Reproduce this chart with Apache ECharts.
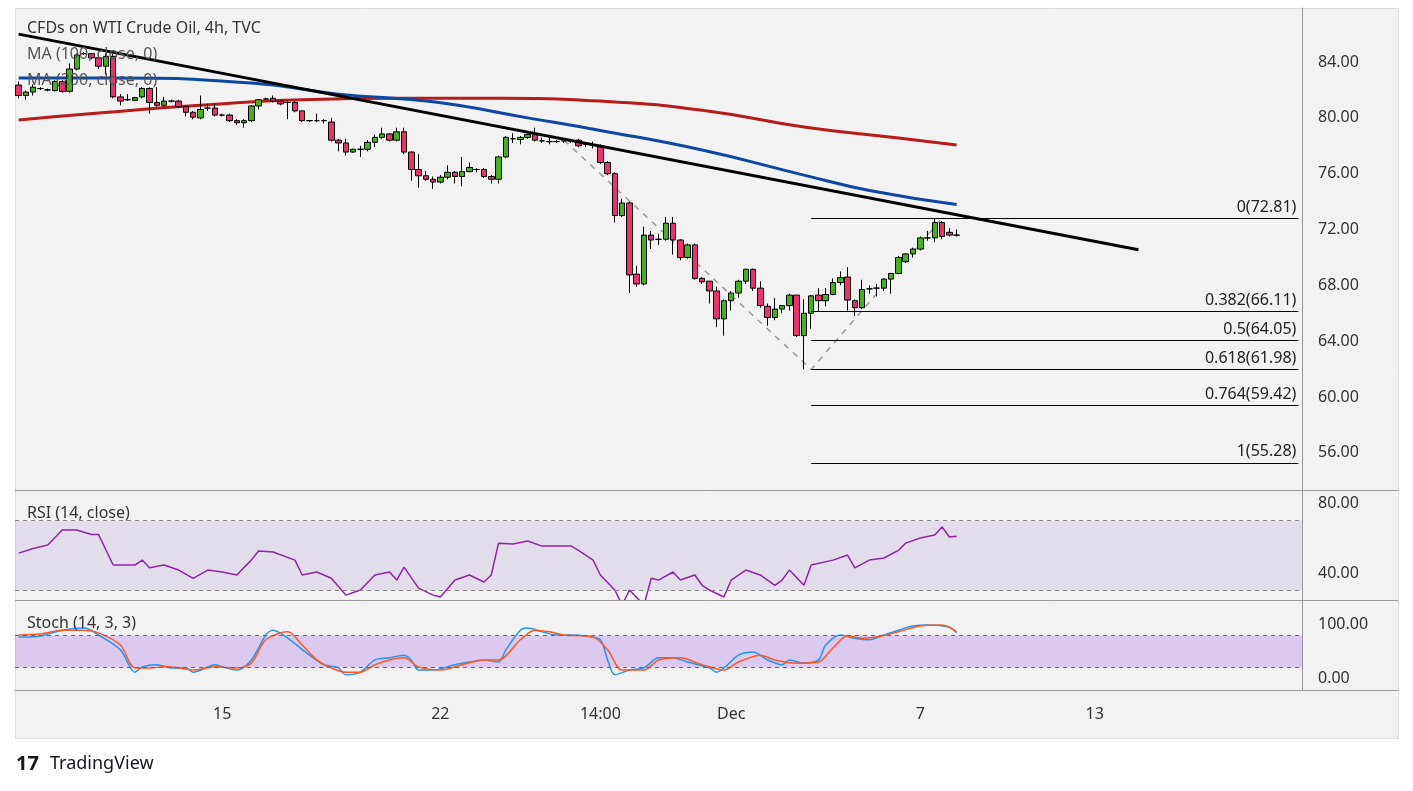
<!DOCTYPE html>
<html>
<head>
<meta charset="utf-8">
<script src="https://cdn.jsdelivr.net/npm/echarts@6/dist/echarts.min.js"></script>
<style>
html,body{margin:0;padding:0;background:#fff}
#chart{width:1413px;height:791px}
</style>
</head>
<body>
<div id="chart"></div>
<script>
// candles: [open, close, low, high]
var candles = [
  [82.35,81.6,81.4,82.6],[81.6,81.85,81.3,81.95],[81.85,82.2,81.6,82.4],[82.1,82.1,82.0,82.2],[82.0,82.0,81.9,82.1],
  [81.95,82.6,81.9,82.7],[82.6,81.9,81.8,82.7],[81.9,83.5,81.8,83.9],[83.5,84.5,83.4,84.6],[84.6,84.6,84.5,84.7],
  [84.6,84.3,84.2,84.6],[84.3,83.7,83.5,84.5],[83.7,84.4,83.1,84.6],[84.4,81.5,81.4,84.6],[81.5,81.2,80.9,81.7],
  [81.3,81.3,81.2,81.7],[81.25,81.45,81.2,81.5],[81.5,82.1,81.4,82.2],[82.1,81.1,80.3,82.2],[81.1,80.9,80.8,82.2],
  [80.9,81.2,80.8,81.5],[81.2,81.2,81.1,81.3],[81.2,80.8,80.7,81.3],[80.8,80.4,80.1,80.9],[80.4,80.05,79.9,80.5],
  [80.0,80.6,79.9,81.6],[80.7,80.7,80.5,81.0],[80.7,80.2,80.1,81.0],[80.2,80.2,80.1,80.3],[80.2,79.8,79.7,80.3],
  [79.8,79.65,79.5,79.9],[79.65,79.8,79.3,79.9],[79.8,80.85,79.7,80.9],[80.85,81.3,80.6,81.35],[81.35,81.35,81.3,81.45],
  [81.4,81.2,81.1,81.6],[81.2,81.0,80.9,81.2],[81.1,81.1,79.9,81.2],[81.1,80.5,80.4,81.2],[80.5,79.8,79.7,80.5],
  [79.8,79.8,79.7,79.85],[79.8,79.8,79.7,80.3],[79.8,79.8,79.6,79.9],[79.7,78.4,78.3,80.0],[78.4,78.2,77.6,78.5],
  [78.2,77.55,77.3,78.5],[77.55,77.75,77.5,77.8],[77.75,77.75,77.2,78.0],[77.75,78.25,77.6,78.4],[78.25,78.6,77.9,78.8],
  [78.6,78.85,78.5,79.3],[78.85,78.4,78.3,78.9],[78.4,79.0,78.3,79.3],[79.0,77.55,77.4,79.3],[77.55,76.3,75.5,77.6],
  [76.3,75.85,75.0,77.4],[75.85,75.6,75.5,76.2],[75.6,75.4,74.9,75.8],[75.4,75.75,75.3,75.9],[75.75,76.1,75.6,76.6],
  [76.1,75.8,75.3,76.2],[75.8,76.15,75.1,77.2],[76.15,76.45,76.1,76.8],[76.3,76.3,76.1,76.4],[76.3,75.8,75.7,76.4],
  [75.8,75.6,75.3,75.9],[75.6,77.2,75.3,77.3],[77.2,78.6,77.1,78.7],[78.5,78.5,78.2,78.9],[78.45,78.6,78.1,78.7],
  [78.6,78.8,78.5,79.0],[78.8,78.4,78.3,79.3],[78.35,78.35,78.2,78.6],[78.3,78.3,78.1,78.7],[78.3,78.3,78.2,78.4],
  [78.35,78.35,78.2,78.5],[78.35,78.35,78.2,78.5],[78.4,78.0,77.9,78.5],[78.1,78.1,77.9,78.2],[78.05,78.05,77.8,78.3],
  [78.0,76.8,76.7,78.1],[76.8,76.0,75.9,76.9],[76.0,73.0,72.5,76.1],[73.0,73.9,72.9,74.2],[73.9,68.75,67.45,74.0],
  [68.8,68.1,67.9,69.4],[68.1,71.6,68.0,72.2],[71.6,71.25,70.6,71.9],[71.3,71.3,70.9,71.7],[71.3,72.45,71.2,72.9],
  [72.45,71.25,70.2,72.9],[71.25,70.0,69.8,71.3],[70.0,70.9,69.9,71.0],[70.9,68.5,68.4,71.0],[68.5,68.25,68.1,68.6],
  [68.3,67.6,66.7,68.3],[67.6,65.6,65.0,67.9],[65.6,66.9,64.4,67.0],[66.9,67.45,66.2,67.6],[67.45,68.3,67.1,68.4],
  [68.3,69.15,68.1,69.2],[69.15,67.8,67.6,69.2],[67.8,66.55,66.4,68.3],[66.5,65.7,65.1,66.7],[65.7,66.3,65.5,67.1],
  [66.3,66.55,66.0,66.6],[66.55,67.3,66.2,67.4],[67.3,64.4,64.3,67.3],[64.4,66.0,61.98,67.0],[66.0,67.25,64.9,67.3],
  [67.3,66.9,66.1,67.8],[66.9,67.35,66.5,67.8],[67.35,68.2,67.3,68.5],[68.2,68.55,68.0,69.0],[68.6,66.95,66.2,69.3],
  [66.9,66.4,65.8,67.0],[66.4,67.7,66.3,68.4],[67.75,67.75,67.4,68.0],[67.8,67.8,67.2,68.1],[67.8,68.45,67.6,68.5],
  [68.45,68.85,67.4,68.9],[68.85,70.0,68.8,70.1],[69.7,70.25,69.6,70.3],[70.25,70.6,70.0,70.7],[70.6,71.4,70.5,71.5],
  [71.4,71.4,71.2,71.9],[71.4,72.5,71.1,72.81],[72.5,71.5,71.3,72.6],[71.8,71.6,71.5,72.1],[71.6,71.6,71.5,72.0]
];
var slotCount = 177;
var dateLabels = {28:'15', 58:'22', 80:'14:00', 98:'Dec', 124:'7', 148:'13'};

// [candle index, value]
var ma100 = [[0,82.85],[13,82.85],[32,82.5],[44,81.7],[57,81.15],[70,80.0],[80,79.1],[94,77.7],[108,75.9],[117,74.8],[129,73.8]];
var ma200 = [[0,79.85],[11,80.35],[25,80.9],[39,81.3],[53,81.4],[66,81.4],[80,81.2],[94,80.55],[108,79.35],[121,78.55],[129,78.05]];
var trendLine = [[0,86.0],[154,70.55]];
var zigzag = [[75,78.4],[109,61.98],[127,72.81]];
var fibLevels = [[0,72.81],[0.382,66.11],[0.5,64.05],[0.618,61.98],[0.764,59.42],[1,55.28]];
var priceTicks = [56,60,64,68,72,76,80,84];

var rsi = [[0,51.4],[2,54],[4,56],[6,64.6],[8,64.6],[10,62],[11,62],[13,44.6],[16,44.6],[17,47.4],[18,43],[20,44.6],
  [22,41.7],[24,37],[26,41.7],[28,40.6],[30,38.9],[32,47.4],[33,52.6],[35,52],[38,47.4],[39,38.9],[41,40.6],[43,37],
  [45,27.4],[47,30.3],[49,38.9],[51,40.6],[52,36],[53,43.4],[55,31.4],[57,27.4],[58,26.3],[60,36],[62,38.9],[64,34.9],
  [65,38.9],[66,57.1],[68,56.6],[70,58.3],[72,55.4],[74,55.4],[76,55.4],[77,53],[79,47.4],[80,38.9],[82,30.3],[83,21.7],
  [84,30.3],[86,21.7],[87,37],[88,36],[90,40.6],[91,36],[93,38.9],[94,33],[95,30.3],[97,26.3],[98,36],[100,41.7],
  [102,38.9],[104,33],[105,36],[106,41.7],[108,33],[109,44.6],[112,47.4],[114,50.3],[115,43],[117,47.4],[119,48.6],
  [121,53],[122,57.1],[124,60],[126,61.7],[127,66.3],[128,60.6],[129,61.1]];
var stochK = [[0,77],[3,79],[6,90],[9,94],[11,81],[14,53],[16,11],[17,21],[19,25],[21,19],[23,19],[24,11],[27,25],[28,21],
  [30,15],[32,34],[34,81],[35,90],[37,75],[40,43],[42,25],[44,19],[45,6],[47,11],[49,34],[51,38],[53,43],[54,34],[55,15],
  [57,15],[60,25],[62,30],[64,34],[66,30],[67,53],[69,90],[70,94],[72,87],[74,81],[76,81],[78,79],[80,72],[81,34],[82,6],
  [84,15],[86,19],[88,38],[90,38],[92,30],[95,19],[96,11],[97,19],[99,43],[101,49],[103,34],[105,25],[106,34],[108,28],
  [110,34],[111,62],[113,81],[115,75],[117,72],[119,81],[121,90],[123,98],[125,100],[128,96],[129,85]];
var stochD = [[0,81],[3,83],[6,90],[9,90],[11,85],[14,62],[16,19],[18,19],[20,21],[22,19],[24,15],[27,21],[30,19],[32,28],
  [34,72],[37,87],[39,62],[41,34],[43,19],[45,11],[47,11],[49,25],[51,34],[53,38],[55,21],[58,15],[61,25],[64,34],[66,34],
  [69,72],[71,90],[73,87],[75,81],[79,77],[81,53],[83,15],[86,15],[88,34],[91,38],[94,25],[97,15],[99,30],[102,43],[104,34],
  [107,28],[110,30],[112,57],[114,79],[116,75],[118,77],[121,87],[124,98],[127,100],[129,87]];

var cats = [];
for (var i = 0; i < slotCount; i++) cats.push(dateLabels[i] || '');

var chart = echarts.init(document.getElementById('chart'));
var gridLeft = 15, gridRight = 111;
var fibLines = fibLevels.map(function (f) {
  var txt = f[0] + '(' + f[1].toFixed(2) + ')';
  return [{coord: [109, f[1]], name: txt}, {coord: [slotCount - 1, f[1]]}];
});

function xAx(idx, showLabels) {
  return {
    type: 'category', gridIndex: idx, data: cats, boundaryGap: true,
    axisLine: {show: showLabels, onZero: false, lineStyle: {color: '#999'}}, axisTick: {show: false},
    axisLabel: {show: showLabels, interval: 0, color: '#333', fontSize: 16, margin: 16, fontFamily: 'Noto Sans'},
    splitLine: {show: false}
  };
}
function yAx(idx, min, max, ticks) {
  return {
    type: 'value', gridIndex: idx, position: 'right', min: min, max: max, scale: true,
    axisLine: {show: true, lineStyle: {color: '#999'}}, axisTick: {show: false}, splitLine: {show: false},
    axisLabel: {customValues: ticks, color: '#333', fontSize: 16, margin: 16, fontFamily: 'Noto Sans',
      formatter: function (v) { return v.toFixed(2); }}
  };
}
var lbl = function (x, y, t, size, color, weight) {
  return {type: 'text', left: x, top: y, z: 100,
    style: {text: t, fill: color || '#333', font: (weight || 'normal') + ' ' + (size || 16) + 'px Noto Sans'}};
};

chart.setOption({
  animation: false,
  backgroundColor: '#fff',
  grid: [
    {left: gridLeft, right: gridRight, top: 8, height: 482},
    {left: gridLeft, right: gridRight, top: 491, height: 109},
    {left: gridLeft, right: gridRight, top: 601, height: 89}
  ],
  xAxis: [xAx(0, false), xAx(1, false), xAx(2, true)],
  yAxis: [yAx(0, 53.34, 87.87, priceTicks), yAx(1, 24.6, 86.9, [40, 80]), yAx(2, -22.6, 145, [0, 100])],
  graphic: [
    {type: 'rect', left: 15, top: 8, z: -10, shape: {width: 1383, height: 730}, style: {fill: '#f2f2f2', stroke: '#ddd'}},
    {type: 'line', z: 50, shape: {x1: 15, y1: 490.5, x2: 1398, y2: 490.5}, style: {stroke: '#999', lineWidth: 1}},
    {type: 'line', z: 50, shape: {x1: 15, y1: 600.5, x2: 1398, y2: 600.5}, style: {stroke: '#999', lineWidth: 1}},
    {type: 'line', z: 50, shape: {x1: 15, y1: 690.5, x2: 1398, y2: 690.5}, style: {stroke: '#999', lineWidth: 1}},
    lbl(27, 20, 'CFDs on WTI Crude Oil, 4h, TVC', 16, '#333'),
    lbl(27, 46, 'MA (100, close, 0)', 16, '#555'),
    lbl(27, 72, 'MA (200, close, 0)', 16, '#555'),
    lbl(27, 505, 'RSI (14, close)', 16, '#333'),
    lbl(27, 615, 'Stoch (14, 3, 3)', 16, '#333'),
    lbl(16, 754, '17', 20, '#131722', 'bold'),
    lbl(50, 755, 'TradingView', 18, '#131722', 'normal')
  ],
  series: [
    {type: 'line', xAxisIndex: 0, yAxisIndex: 0, data: ma200, smooth: true, symbol: 'none', z: 2,
      lineStyle: {color: '#b71c1c', width: 3}},
    {type: 'line', xAxisIndex: 0, yAxisIndex: 0, data: ma100, smooth: true, symbol: 'none', z: 2,
      lineStyle: {color: '#0d47a1', width: 3}},
    {type: 'line', xAxisIndex: 0, yAxisIndex: 0, data: zigzag, symbol: 'none', z: 3,
      lineStyle: {color: '#999', width: 1.5, type: [6, 6]}},
    {type: 'candlestick', xAxisIndex: 0, yAxisIndex: 0, data: candles, barWidth: 6, z: 4,
      itemStyle: {color: '#44b31a', color0: '#f0306a', borderColor: '#000', borderColor0: '#000', borderWidth: 1},
      markLine: {symbol: 'none', silent: true, lineStyle: {color: '#000', width: 1, type: 'solid'},
        label: {show: true, position: 'insideEndTop', formatter: '{b}', color: '#222', fontSize: 16,
          fontFamily: 'Noto Sans', distance: [2, 3]},
        data: fibLines}},
    {type: 'line', xAxisIndex: 0, yAxisIndex: 0, data: trendLine, symbol: 'none', z: 5,
      lineStyle: {color: '#000', width: 3}},
    {type: 'line', xAxisIndex: 1, yAxisIndex: 1, data: rsi, symbol: 'none',
      lineStyle: {color: '#8e24aa', width: 1.5},
      markArea: {silent: true, itemStyle: {color: 'rgba(126,87,194,0.13)'}, data: [[{yAxis: 30}, {yAxis: 70}]]},
      markLine: {symbol: 'none', silent: true, label: {show: false},
        lineStyle: {color: '#888', type: [4, 4], width: 1}, data: [{yAxis: 70}, {yAxis: 30}]}},
    {type: 'line', xAxisIndex: 2, yAxisIndex: 2, data: stochK, symbol: 'none', smooth: 0.3,
      lineStyle: {color: '#2196f3', width: 1.5},
      markArea: {silent: true, itemStyle: {color: 'rgba(150,80,230,0.25)'}, data: [[{yAxis: 20}, {yAxis: 80}]]},
      markLine: {symbol: 'none', silent: true, label: {show: false},
        lineStyle: {color: '#666', type: [4, 4], width: 1}, data: [{yAxis: 80}, {yAxis: 20}]}},
    {type: 'line', xAxisIndex: 2, yAxisIndex: 2, data: stochD, symbol: 'none', smooth: 0.3,
      lineStyle: {color: '#ff5722', width: 1.5}}
  ]
});
</script>
</body>
</html>
